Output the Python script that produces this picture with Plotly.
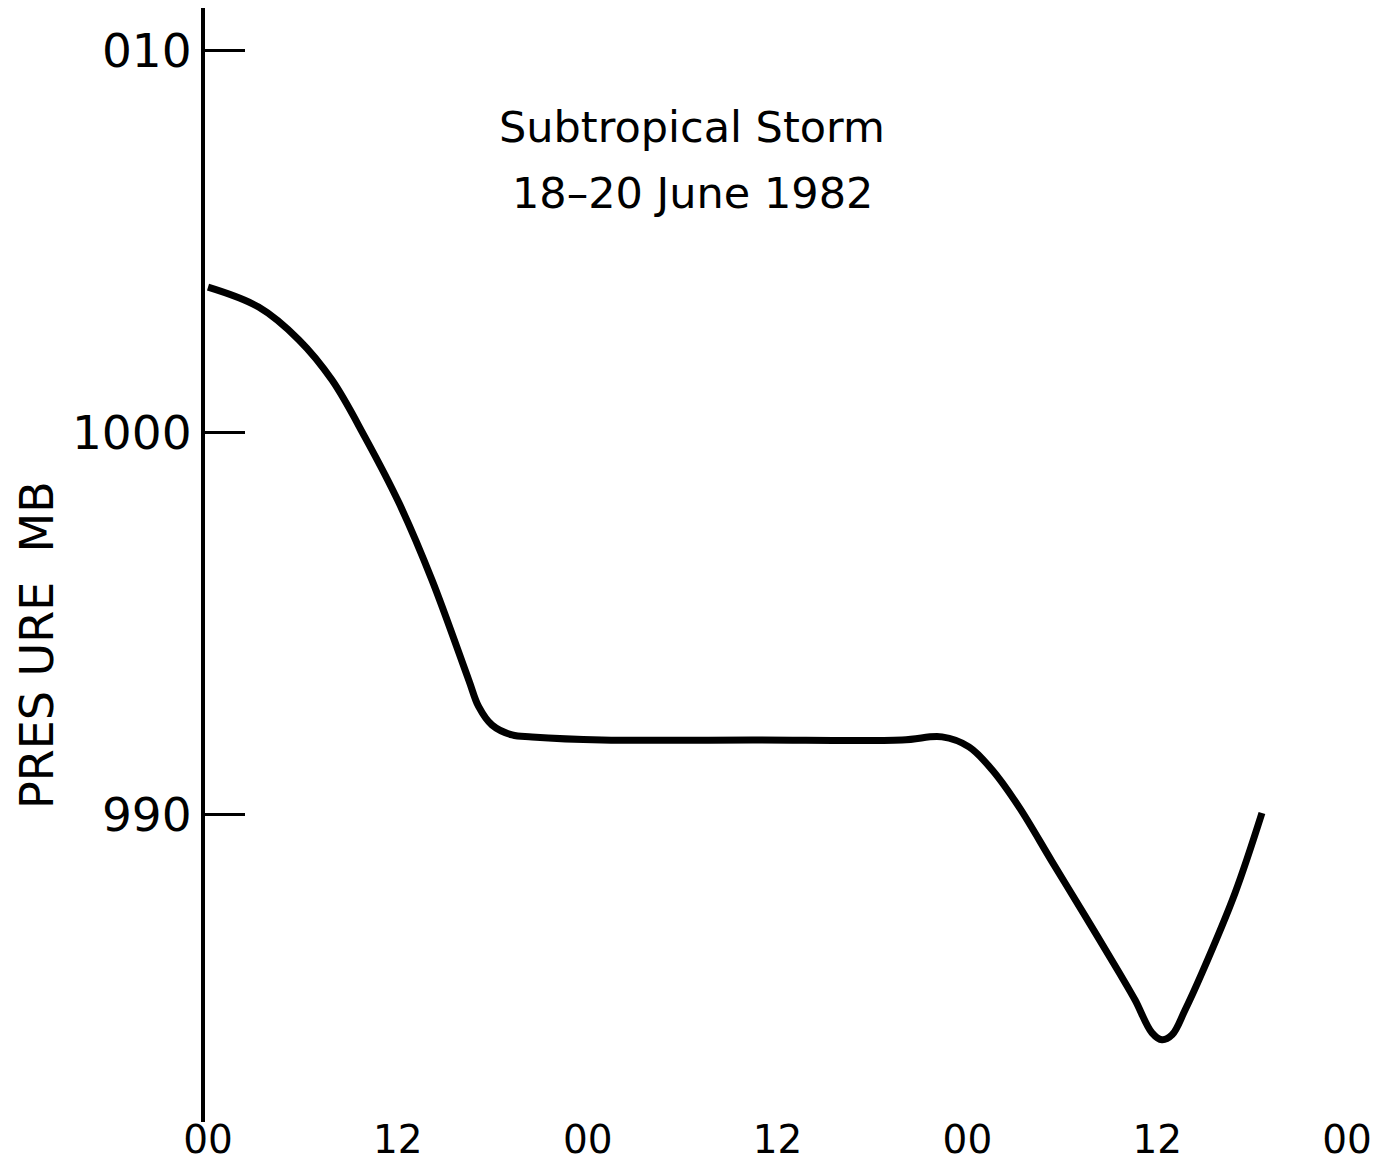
import plotly.graph_objects as go

# Data (hours since 00Z 18 June 1982, pressure in mb)
hours = [0, 3.2, 5.75, 7.84, 9.92, 12.07, 14.16, 16.48, 17.11, 17.95, 19.22, 20.48,
         24.9, 34.4, 43.87, 46.4, 48.1, 49.56, 51.26, 53.35, 55.44, 57.59,
         58.6, 59.67, 60.3, 60.94, 61.76, 62.83, 64.92, 66.62]
pressure = [1003.8, 1003.28, 1002.42, 1001.37, 999.88, 998.16, 996.14, 993.53, 992.83,
            992.35, 992.09, 992.04, 991.96, 991.96, 991.96, 992.04, 991.78, 991.18,
            990.21, 988.78, 987.36, 985.88, 985.16, 984.3, 984.12, 984.25, 984.9,
            985.87, 987.96, 990.05]

x_tickvals = [0, 12, 24, 36, 48, 60, 72]
x_ticktext = ["00", "12", "00", "12", "00", "12", "00"]
y_tickvals = [1010, 1000, 990]
y_ticktext = ["010", "1000", "990"]

title_line1 = "Subtropical Storm"
title_line2 = "18–20 June 1982"
y_title = "PRES URE  MB"

FONT = "DejaVu Sans"

fig = go.Figure()
fig.add_trace(go.Scatter(
    x=hours, y=pressure, mode="lines",
    line=dict(color="black", width=7, shape="spline", smoothing=1.0),
    hoverinfo="skip", showlegend=False,
))

fig.update_layout(
    width=1385, height=1168,
    margin=dict(l=197, r=26, t=0, b=54, autoexpand=False),
    paper_bgcolor="white", plot_bgcolor="white",
    font=dict(family=FONT, color="black"),
    xaxis=dict(
        range=[-0.19, 73.26], showline=False, showgrid=False, zeroline=False,
        tickvals=x_tickvals, ticktext=x_ticktext, ticks="",
        tickfont=dict(family=FONT, size=39, color="black"),
        anchor="free", position=0.008,
    ),
    yaxis=dict(
        range=[981.97, 1011.1], showline=True, linecolor="black", linewidth=4,
        showgrid=False, zeroline=False,
        tickvals=y_tickvals, ticktext=y_ticktext,
        ticks="inside", ticklen=40, tickwidth=3, tickcolor="black",
        tickfont=dict(family=FONT, size=47, color="black"),
        ticklabelstandoff=0,
    ),
)

# rotated y-axis title placed as in the reference
fig.add_annotation(x=(35 - 203) / (1365 - 203), y=(1122 - 645) / (1122 - 8),
                   xref="paper", yref="paper", text=y_title, textangle=-90,
                   showarrow=False, font=dict(family=FONT, size=46, color="black"),
                   xanchor="center", yanchor="middle")

fig.add_annotation(x=30.6, y=1007.99, xref="x", yref="y", text=title_line1,
                   showarrow=False, font=dict(family=FONT, size=43, color="black"),
                   xanchor="center", yanchor="middle")
fig.add_annotation(x=30.6, y=1006.26, xref="x", yref="y", text=title_line2,
                   showarrow=False, font=dict(family=FONT, size=43, color="black"),
                   xanchor="center", yanchor="middle")

fig.write_html("out.html")
